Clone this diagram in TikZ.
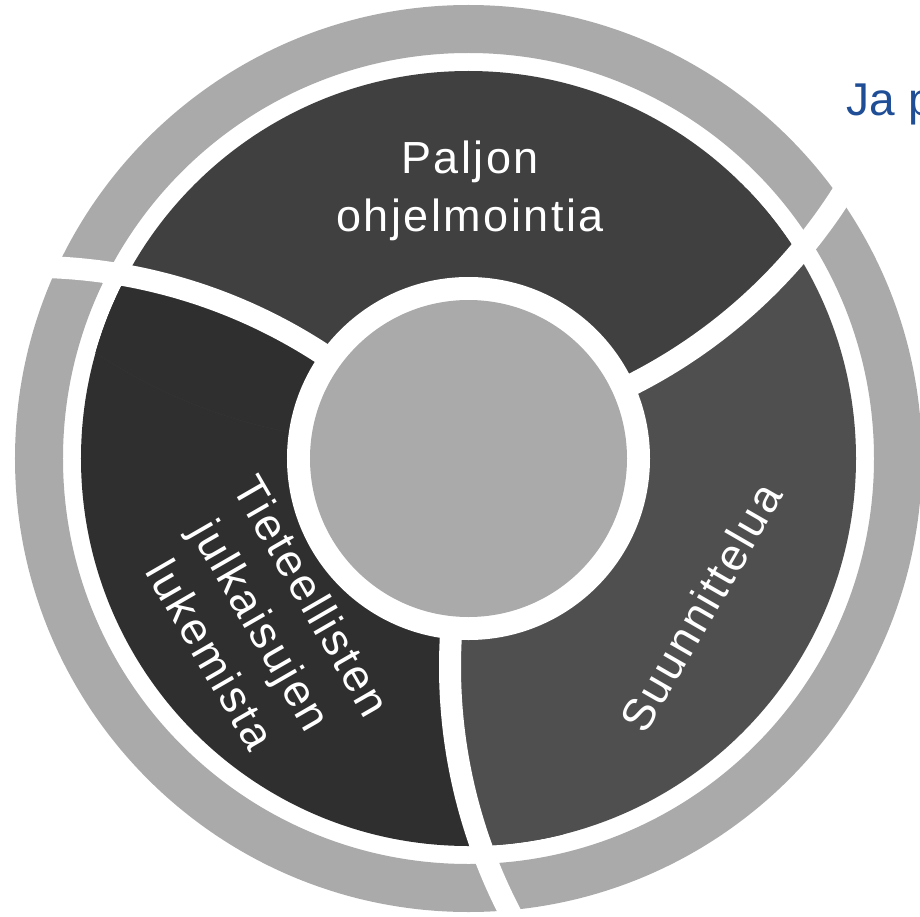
\documentclass[tikz,border=0pt]{standalone}
\usepackage{fontspec}
\setmainfont{Liberation Sans}
\newfontfamily\segfont[LetterSpace=5.5]{Liberation Sans}
\begin{document}
\begin{tikzpicture}[x=1pt,y=1pt,
  seglabel/.style={text=white, font=\segfont\fontsize{45}{58.4}\selectfont, align=center, inner sep=0pt},
  divider/.style={draw=white, line width=22pt}]
\definecolor{ringgray}{HTML}{AAAAAA}
\definecolor{segtop}{HTML}{404040}
\definecolor{segright}{HTML}{4F4F4F}
\definecolor{segleft}{HTML}{2F2F2F}
\definecolor{titleblue}{HTML}{1F4E96}
\useasboundingbox (-468.5,-457.5) rectangle (451.5,458.5);
% centres of the three circles whose arcs form the curved dividers
\coordinate (c1) at (218:556);
\coordinate (c2) at (338:556);
\coordinate (c3) at (98:556);
% outer grey ring
\fill[ringgray, even odd rule] (0,0) circle[radius=453.5] circle[radius=405.5];
% the three dark segments, each bounded by two divider arcs
\begin{scope}
  \clip (0,0) circle[radius=387.5];
  \fill[segleft] (c1) circle[radius=534];
  \fill[segright] (c2) circle[radius=534];
  \fill[segtop] (c3) circle[radius=534];
  \begin{scope}
    \clip (c1) circle[radius=534];
    \fill[segleft] (c3) circle[radius=534];
  \end{scope}
\end{scope}
% curved white dividers
\draw[divider] (c1) ++(53:534) arc[start angle=53, end angle=90, radius=534];
\draw[divider] (c2) ++(173:534) arc[start angle=173, end angle=210, radius=534];
\draw[divider] (c3) ++(-67:534) arc[start angle=-67, end angle=-30, radius=534];
% hub with its white gap
\fill[white] (0,0) circle[radius=181.5];
\fill[ringgray] (0,0) circle[radius=158.5];
% labels
\node[seglabel] (toplabel) at (1.5,267.4) {Paljon\\ohjelmointia};
\node[seglabel, rotate=60] (rightlabel) at (-32.6:276) {Suunnittelua};
\node[seglabel, rotate=-60] (leftlabel) at (-206.8,-166.5) {Tieteellisten\\julkaisujen\\lukemista};
\node[anchor=base west, inner sep=0pt, text=titleblue, font=\fontsize{46}{55}\selectfont] (title) at (378.2,342.5) {Ja p};
\end{tikzpicture}
\end{document}
